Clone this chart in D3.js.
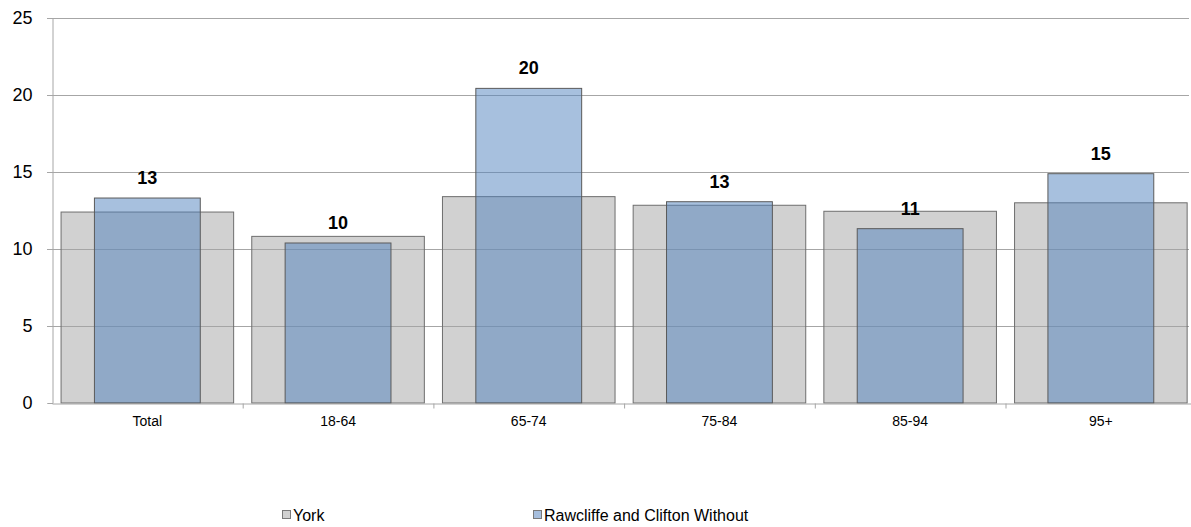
<!DOCTYPE html>
<head>
<meta charset="utf-8">
<script src="https://cdn.jsdelivr.net/npm/d3@7"></script>
<style>
body { margin: 0; background: #fff; font-family: "Liberation Sans", Arial, sans-serif; }
</style>
</head>
<body>
<svg id="chart" width="1191" height="527"></svg>
<script>
// values
var ages = ["Total", "18-64", "65-74", "75-84", "85-94", "95+"];
var york = [12.4, 10.82, 13.4, 12.84, 12.45, 13.0];
var rawcliffe = [13.31, 10.39, 20.43, 13.07, 11.32, 14.89];
var rawLabels = ["13", "10", "20", "13", "11", "15"];
var yTicks = [0, 5, 10, 15, 20, 25];
var seriesNames = ["York", "Rawcliffe and Clifton Without"];

var svg = d3.select("#chart"),
    margin = {top: 18, left: 52, bottom: 124, right: 2},
    width = +svg.attr("width") - margin.left - margin.right,
    height = +svg.attr("height") - margin.top - margin.bottom;

// the original plot runs a little past the right edge of the picture
var band = 190.7;
var x = d3.scaleBand().domain(ages).range([margin.left, margin.left + band * ages.length]);
var y = d3.scaleLinear().domain([0, 25]).range([margin.top + height, margin.top]);

// gridlines
svg.append("g").selectAll("line").data(yTicks.slice(1)).enter().append("line")
    .attr("x1", margin.left - 5).attr("x2", margin.left + width)
    .attr("y1", d => y(d) + 0.5).attr("y2", d => y(d) + 0.5)
    .attr("stroke", "#a6a6a6").attr("stroke-width", 1);

var greyW = x.bandwidth() * 0.905, blueW = x.bandwidth() * 0.555;

svg.append("g").selectAll("rect").data(york).enter().append("rect")
    .attr("x", (d, i) => x(ages[i]) + (x.bandwidth() - greyW) / 2)
    .attr("y", d => y(d))
    .attr("width", greyW)
    .attr("height", d => y(0) - y(d))
    .attr("fill", "#a3a3a3").attr("fill-opacity", 0.5)
    .attr("stroke", "#6e6e6e").attr("stroke-width", 1);

svg.append("g").selectAll("rect").data(rawcliffe).enter().append("rect")
    .attr("x", (d, i) => x(ages[i]) + (x.bandwidth() - blueW) / 2)
    .attr("y", d => y(d))
    .attr("width", blueW)
    .attr("height", d => y(0) - y(d))
    .attr("fill", "#4f81bd").attr("fill-opacity", 0.5)
    .attr("stroke", "#5a5a5a").attr("stroke-width", 1);

// value labels
svg.append("g").selectAll("text").data(rawcliffe).enter().append("text")
    .attr("x", (d, i) => x(ages[i]) + x.bandwidth() / 2)
    .attr("y", d => y(d) - 14)
    .attr("text-anchor", "middle")
    .attr("font-size", "18px").attr("font-weight", "bold")
    .text((d, i) => rawLabels[i]);

// y axis
var yAxis = svg.append("g").attr("transform", `translate(${margin.left + 0.5},0)`)
    .call(d3.axisLeft(y).tickValues(yTicks).tickSize(5).tickPadding(15));
yAxis.selectAll("text").attr("font-size", "18px").attr("fill", "#000")
    .attr("font-family", "Liberation Sans, Arial, sans-serif");
yAxis.selectAll("line, path").attr("stroke", "#a6a6a6");

// x axis
var xAxis = svg.append("g").attr("transform", `translate(0,${y(0) + 0.5})`)
    .call(d3.axisBottom(x).tickSize(0).tickPadding(13).tickSizeOuter(0));
xAxis.selectAll("text").attr("font-size", "14px").attr("fill", "#000")
    .attr("font-family", "Liberation Sans, Arial, sans-serif");
xAxis.select("path").attr("stroke", "#a6a6a6");
xAxis.append("g").selectAll("line").data(ages).enter().append("line")
    .attr("x1", d => x(d) + x.bandwidth() + 0.5).attr("x2", d => x(d) + x.bandwidth() + 0.5)
    .attr("y1", 0).attr("y2", 5).attr("stroke", "#a6a6a6");

// legend
var legendX = [282, 533];
var legend = svg.append("g").selectAll("g").data(seriesNames).enter().append("g")
    .attr("transform", (d, i) => `translate(${legendX[i]},510)`);
legend.append("rect").attr("x", 0.5).attr("y", 0.5).attr("width", 8).attr("height", 8)
    .attr("fill", (d, i) => i == 0 ? "#d1d1d1" : "#a7bfde")
    .attr("stroke", "#7a7a7a");
legend.append("text").attr("x", 11).attr("y", 10.5).attr("font-size", "16px")
    .text(d => d);
</script>
</body>
</html>
